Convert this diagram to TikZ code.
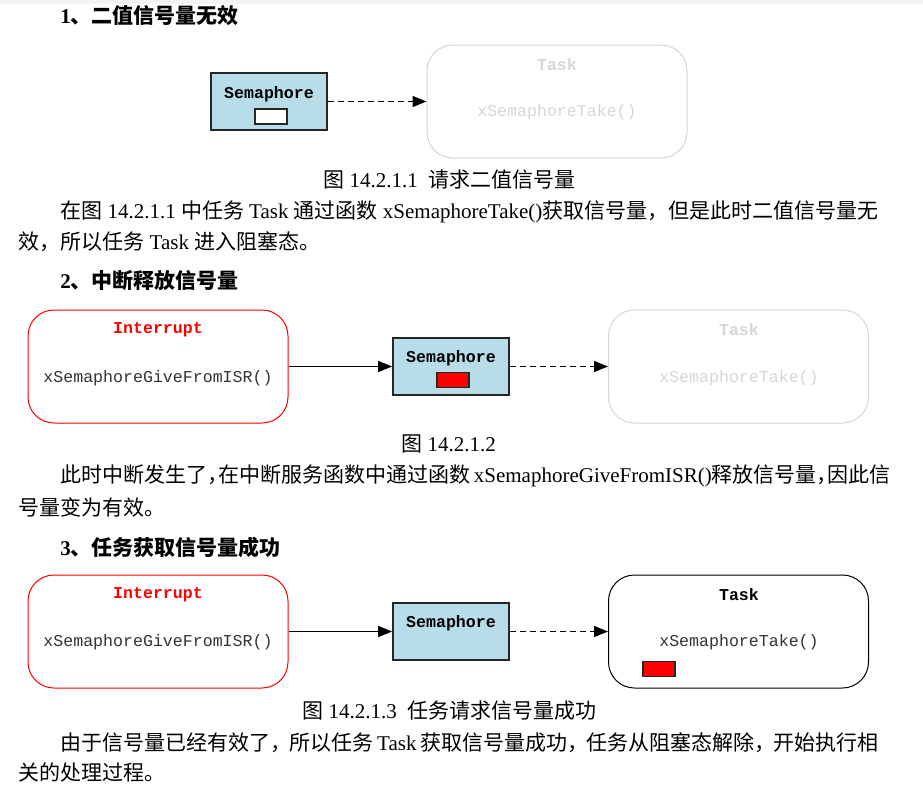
\documentclass[tikz,border=0pt]{standalone}
\usepackage{fontspec}
\setmainfont{Liberation Serif}
\setmonofont{Liberation Mono}
\newfontfamily\cjk{Noto Sans CJK SC}
\usetikzlibrary{arrows.meta}

\definecolor{semblue}{RGB}{183,221,232}
\definecolor{ghost}{RGB}{214,214,214}
\definecolor{intred}{RGB}{255,0,0}
\definecolor{toolbar}{RGB}{243,243,243}
\newcommand{\zh}[1]{{\cjk #1}}

\tikzset{
  every node/.style={inner sep=0pt},
  body/.style={anchor=west, font=\fontsize{10.5}{12}\selectfont},
  heading/.style={anchor=west, font=\fontsize{10.5}{12}\selectfont\bfseries},
  sembox/.style={draw=black!85, line width=0.9pt, fill=semblue, minimum width=58pt, minimum height=28.5pt},
  roundbox/.style={draw, line width=0.5pt, rounded corners=13pt, minimum width=130pt, minimum height=56.5pt},
  token/.style={draw=black!85, line width=0.7pt, minimum width=16pt, minimum height=7.5pt},
  code/.style={font=\ttfamily\fontsize{8.3}{10}\selectfont},
  codebold/.style={font=\ttfamily\bfseries\fontsize{8.3}{10}\selectfont},
  give/.style={-{Triangle[length=7pt,width=5.5pt]}, line width=0.7pt},
  take/.style={give, dash pattern=on 3pt off 2pt},
}

\begin{document}
\begin{tikzpicture}[x=0.5pt, y=-0.5pt]
    \useasboundingbox (0,0) rectangle (923,804);
    \fill[white] (0,0) rectangle (923,804);
    \fill[toolbar] (0,0) rectangle (923,4);

    % Part 1
    \node (head1) [heading] at (60,16) {1\zh{、二值信号量无效}};
    \node (sem1) [sembox] at (269,101.5) {};
    \node (sem1lbl) [codebold] at (269,94) {Semaphore};
    \node (tok1) [token, fill=white] at (271,116.5) {};
    \node (task1) [roundbox, draw=ghost] at (557,101.5) {};
    \node (task1lbl) [codebold, text=ghost] at (557,65) {Task};
    \node (task1code) [code, text=ghost] at (557,112) {xSemaphoreTake()};
    \node (cap1) [body] at (323,180) {\zh{图} 14.2.1.1\ \ \zh{请求二值信号量}};
    \node (par1a) [body] at (60,212) {\makebox[409pt][s]{\zh{在图} 14.2.1.1 \zh{中任务} Task \zh{通过函数} xSemaphoreTake()\zh{获取信号量，但是此时二值信号量无}}};
    \node (par1b) [body] at (18,242) {\zh{效，所以任务} Task \zh{进入阻塞态。}};

    % Part 2
    \node (head2) [heading] at (60,281) {2\zh{、中断释放信号量}};
    \node (int2) [roundbox, draw=intred] at (158,366.5) {};
    \node (int2lbl) [codebold, text=intred] at (158,330) {Interrupt};
    \node (int2code) [code, text=black!80] at (158,378) {xSemaphoreGiveFromISR()};
    \node (sem2) [sembox] at (451,366.5) {};
    \node (sem2lbl) [codebold] at (451,358) {Semaphore};
    \node (tok2) [token, fill=intred] at (453,380) {};
    \node (task2) [roundbox, draw=ghost] at (738.5,366.5) {};
    \node (task2lbl) [codebold, text=ghost] at (739,330) {Task};
    \node (task2code) [code, text=ghost] at (739,378) {xSemaphoreTake()};
    \node (cap2) [body] at (401,444) {\zh{图} 14.2.1.2};
    \node (par2a) [body] at (60,476) {\makebox[409pt][s]{\zh{此时中断发生了，}\hspace{-5pt}\zh{在中断服务函数中通过函数} xSemaphoreGiveFromISR()\zh{释放信号量，}\hspace{-5pt}\zh{因此信}}};
    \node (par2b) [body] at (18,507) {\zh{号量变为有效。}};

    % Part 3
    \node (head3) [heading] at (60,547) {3\zh{、任务获取信号量成功}};
    \node (int3) [roundbox, draw=intred] at (158,631.5) {};
    \node (int3lbl) [codebold, text=intred] at (158,595) {Interrupt};
    \node (int3code) [code, text=black!80] at (158,642) {xSemaphoreGiveFromISR()};
    \node (sem3) [sembox] at (451,631.5) {};
    \node (sem3lbl) [codebold] at (451,623) {Semaphore};
    \node (task3) [roundbox, draw=black] at (738.5,631.5) {};
    \node (task3lbl) [codebold] at (739,595) {Task};
    \node (task3code) [code, text=black!80] at (739,642) {xSemaphoreTake()};
    \node (tok3) [token, fill=intred] at (659,669) {};
    \node (cap3) [body] at (302,711) {\zh{图} 14.2.1.3\ \ \zh{任务请求信号量成功}};
    \node (par3a) [body] at (60,743) {\makebox[409pt][s]{\zh{由于信号量已经有效了，}\hspace{-1pt}\zh{所以任务} Task \zh{获取信号量成功，}\hspace{-1pt}\zh{任务从阻塞态解除，}\hspace{-1pt}\zh{开始执行相}}};
    \node (par3b) [body] at (18,772) {\zh{关的处理过程。}};

    % Edges
    \draw[take] (sem1) -- (task1);
    \draw[give] (int2) -- (sem2);
    \draw[take] (sem2) -- (task2);
    \draw[give] (int3) -- (sem3);
    \draw[take] (sem3) -- (task3);
\end{tikzpicture}
\end{document}
